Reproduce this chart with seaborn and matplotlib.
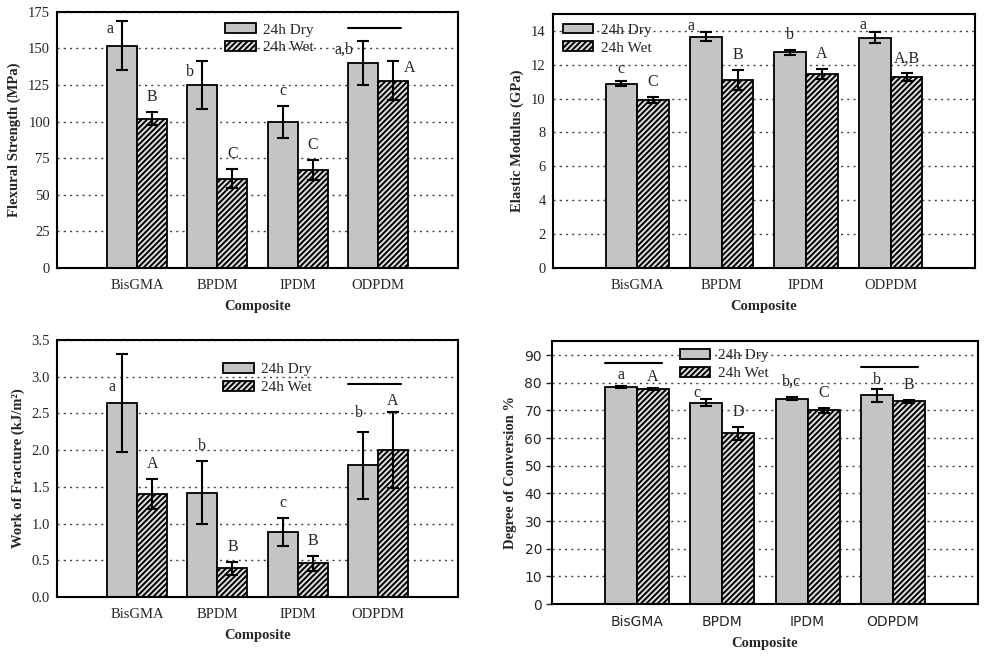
import numpy as np
import pandas as pd
import matplotlib
matplotlib.use("Agg")
import matplotlib.pyplot as plt
import seaborn as sns
from matplotlib.patches import Patch

sns.set_style("ticks")
plt.rcParams['font.family'] = ['Liberation Serif', 'DejaVu Serif']
plt.rcParams['hatch.linewidth'] = 1.4

# Data
composites = ['BisGMA', 'BPDM', 'IPDM', 'ODPDM']
conditions = ['24h Dry', '24h Wet']

flex_dry = [152, 125, 100, 140]
flex_dry_sd = [17, 16.5, 11, 15]
flex_wet = [102, 61, 67, 128]
flex_wet_sd = [4.5, 6.5, 7, 13.5]
flex_dry_letters = ['a', 'b', 'c', 'a,b']
flex_wet_letters = ['B', 'C', 'C', 'A']

mod_dry = [10.87, 13.66, 12.72, 13.6]
mod_dry_sd = [0.15, 0.25, 0.15, 0.3]
mod_wet = [9.92, 11.08, 11.46, 11.26]
mod_wet_sd = [0.2, 0.6, 0.3, 0.22]
mod_dry_letters = ['c', 'a', 'b', 'a']
mod_wet_letters = ['C', 'B', 'A', 'A,B']

wof_dry = [2.64, 1.42, 0.89, 1.79]
wof_dry_sd = [0.67, 0.43, 0.19, 0.45]
wof_wet = [1.40, 0.39, 0.46, 2.00]
wof_wet_sd = [0.20, 0.09, 0.10, 0.52]
wof_dry_letters = ['a', 'b', 'c', 'b']
wof_wet_letters = ['A', 'B', 'B', 'A']

dc_dry = [78.5, 72.8, 74.3, 75.5]
dc_dry_sd = [0.5, 1.2, 0.6, 2.3]
dc_wet = [77.7, 61.7, 70.0, 73.3]
dc_wet_sd = [0.4, 2.2, 1.0, 0.6]
dc_dry_letters = ['a', 'c', 'b,c', 'b']
dc_wet_letters = ['A', 'D', 'C', 'B']

DRY_COLOR = '#c4c4c4'
WET_COLOR = '#e0e0e0'
HATCH = '//////'


def draw_panel(ax, dry, dry_sd, wet, wet_sd, dry_letters, wet_letters,
               ylabel, ylim, step, legend_anchor, nudges, lines):
    df = pd.DataFrame({
        'Composite': composites * 2,
        'Condition': [conditions[0]] * 4 + [conditions[1]] * 4,
        'value': dry + wet,
    })
    sns.barplot(data=df, x='Composite', y='value', hue='Condition',
                order=composites, hue_order=conditions,
                palette=[DRY_COLOR, WET_COLOR], width=0.75,
                edgecolor='black', linewidth=1.3, errorbar=None,
                legend=False, ax=ax)
    bars = list(ax.containers[:2])
    for p in bars[1]:
        p.set_hatch(HATCH)

    sds = [dry_sd, wet_sd]
    labels = [dry_letters, wet_letters]
    for k, cont in enumerate(bars):
        for i, p in enumerate(cont):
            xc = p.get_x() + p.get_width() / 2
            h = p.get_height()
            ax.errorbar(xc, h, yerr=sds[k][i], color='black', lw=1.5,
                        capsize=4, capthick=1.5, zorder=5)
            dx, dy = nudges.get((k, i), (0, 15))
            ax.annotate(labels[k][i], xy=(xc, h + sds[k][i]),
                        xytext=(dx * 0.72, dy * 0.72), textcoords='offset points',
                        ha='center', va='center', fontsize=11.5)

    # significance bars over groups
    for gi, yv in lines:
        left = bars[0][gi]
        right = bars[1][gi]
        x0 = left.get_x()
        x1 = right.get_x() + right.get_width() - 0.08
        ax.plot([x0, x1], [yv, yv], color='black', lw=1.5)

    ax.set_xlim(-1, 4)
    ax.set_ylim(*ylim)
    ax.set_yticks(np.arange(0, ylim[1] + 1e-9, step))
    ax.yaxis.grid(True, linestyle=(0, (1.5, 3)), color='#444444', lw=1.0)
    ax.set_axisbelow(True)
    for s in ax.spines.values():
        s.set_visible(True)
        s.set_linewidth(1.5)
        s.set_color('black')
    ax.tick_params(axis='y', length=0, labelsize=10.5, pad=5)
    ax.tick_params(axis='x', length=0, labelsize=10.5, pad=8)
    ax.set_ylabel(ylabel, fontsize=10.5, fontweight='bold', labelpad=5)
    ax.set_xlabel('Composite', fontsize=10.5, fontweight='bold', labelpad=6)

    handles = [Patch(facecolor=DRY_COLOR, edgecolor='black', lw=1.3),
               Patch(facecolor=WET_COLOR, edgecolor='black', lw=1.3, hatch=HATCH)]
    ax.legend(handles, conditions, loc='upper left', bbox_to_anchor=legend_anchor,
              frameon=False, fontsize=11, handlelength=2.0, handleheight=0.6,
              handletextpad=0.5, labelspacing=0.3, borderaxespad=0, borderpad=0)


fig = plt.figure(figsize=(9.87, 6.6), dpi=100)
ax1 = fig.add_axes([0.0578, 0.594, 0.4062, 0.388])
ax2 = fig.add_axes([0.560, 0.594, 0.428, 0.385])
ax3 = fig.add_axes([0.0578, 0.0955, 0.4062, 0.3895])
ax4 = fig.add_axes([0.559, 0.0848, 0.432, 0.398])

draw_panel(ax1, flex_dry, flex_dry_sd, flex_wet, flex_wet_sd,
           flex_dry_letters, flex_wet_letters,
           'Flexural Strength (MPa)', (0, 175), 25, (0.419, 0.955),
           {(0, 0): (-12, -8), (0, 1): (-12, -11), (0, 3): (-19, -8),
            (1, 3): (17, -7)},
           [(3, 164)])

draw_panel(ax2, mod_dry, mod_dry_sd, mod_wet, mod_wet_sd,
           mod_dry_letters, mod_wet_letters,
           'Elastic Modulus (GPa)', (0, 15), 2, (0.024, 0.962),
           {(0, 1): (-15, 6), (0, 3): (-12, 7), (0, 0): (0, 12)},
           [])

draw_panel(ax3, wof_dry, wof_dry_sd, wof_wet, wof_wet_sd,
           wof_dry_letters, wof_wet_letters,
           'Work of Fracture (kJ/m²)', (0, 3.5), 0.5, (0.414, 0.91),
           {(0, 0): (-10, -33), (1, 3): (0, 11), (0, 3): (-4, 19)},
           [(3, 2.9)])
ax3.yaxis.set_major_formatter(matplotlib.ticker.FormatStrFormatter('%.1f'))

draw_panel(ax4, dc_dry, dc_dry_sd, dc_wet, dc_wet_sd,
           dc_dry_letters, dc_wet_letters,
           'Degree of Conversion %', (0, 95), 10, (0.30, 0.97),
           {(0, 0): (0, 11), (1, 0): (0, 11), (0, 1): (-9, 6), (0, 3): (0, 9)},
           [(0, 87), (3, 85.6)])
ax4.tick_params(axis='y', length=4, width=1, pad=3)
for lab in ax4.get_xticklabels() + ax4.get_yticklabels():
    lab.set_fontfamily('DejaVu Sans')
    lab.set_fontsize(10)

fig.savefig('out.png', dpi=100)
